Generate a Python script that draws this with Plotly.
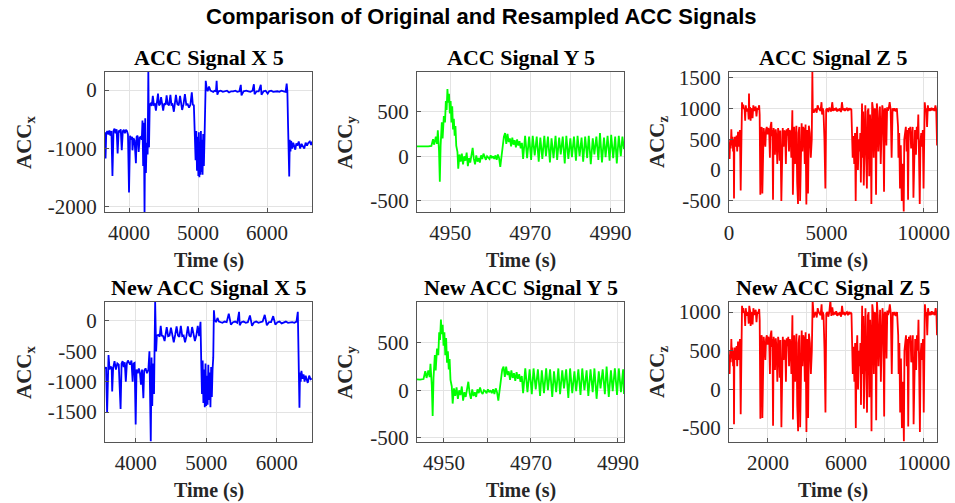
import plotly.graph_objects as go

W, H = 955, 503

# ---------------- data ----------------
acc_x_t = [3650, 3660, 3670, 3685, 3700, 3715, 3730, 3745, 3760, 3775, 3790, 3805, 3820, 3835, 3850, 3865,
           3880, 3895, 3910, 3925, 3940, 3955, 3970, 3985, 4000, 4015, 4030, 4045, 4050, 4065, 4080, 4100,
           4110, 4125, 4140, 4155, 4170, 4185, 4195, 4205, 4215, 4225, 4235, 4245, 4255, 4270, 4280, 4290,
           4300, 4315, 4330, 4345, 4360, 4375, 4390, 4405, 4420, 4435, 4450, 4465, 4480, 4495, 4510, 4530,
           4545, 4560, 4580, 4600, 4615, 4630, 4650, 4665, 4680, 4700, 4720, 4740, 4755, 4770, 4790, 4810,
           4830, 4850, 4870, 4890, 4910, 4925, 4940, 4955, 4965, 4975, 4985, 4995, 5005, 5012, 5020, 5028,
           5035, 5042, 5050, 5058, 5066, 5075, 5085, 5095, 5105, 5112, 5125, 5140, 5160, 5180, 5200, 5220,
           5240, 5260, 5270, 5280, 5300, 5330, 5360, 5390, 5420, 5450, 5480, 5510, 5540, 5570, 5600, 5620,
           5630, 5660, 5700, 5730, 5760, 5790, 5810, 5820, 5850, 5880, 5910, 5920, 5950, 5980, 6010, 6030,
           6060, 6090, 6120, 6150, 6180, 6210, 6240, 6270, 6285, 6295, 6305, 6315, 6322, 6330, 6340, 6350,
           6365, 6380, 6395, 6410, 6425, 6440, 6460, 6480, 6500, 6520, 6540, 6560, 6580, 6600, 6620, 6640, 6655]
acc_x_v = [-720, -1170, -740, -700, -760, -690, -780, -700, -1470, -700, -660, -740, -670, -1085, -690, -720,
           -670, -1030, -700, -680, -740, -680, -700, -760, -1750, -780, -850, -800, -1030, -820, -860, -1250,
           -800, -780, -1060, -810, -800, -850, -520, -1300, -560, -2100, -480, -1420, -900, -1100, 320, -980,
           -250, -230, -270, -100, -250, -240, -350, -230, -60, -260, -240, -120, -250, -350, -230, -250,
           -90, -240, -260, -80, -250, -240, -370, -250, -80, -240, -260, -100, -250, -340, -240, -70,
           -250, -240, -300, -250, -40, -250, -260, -750, -1200, -700, -1380, -800, -1470, -720, -1490, -900,
           -1450, -700, -1400, -850, -1450, -750, -1300, -780, -300, 160, 40, -20, 60, -10, -20, -30,
           -10, -20, 160, -80, -20, -10, -30, -20, -10, -40, -20, -20, -10, -30, -20, 90,
           -90, -20, -10, -20, -30, -10, 100, -70, -20, -20, 90, -80, -20, -10, -60, -20,
           -10, -30, -20, -20, -30, -10, -20, -30, 110, -20, -600, -1300, -1480, -850, -1050, -870,
           -1000, -900, -950, -1020, -910, -950, -880, -1000, -920, -960, -1000, -900, -950, -900, -880, -940, -880]

acc_y_t = [4941.5, 4943.0, 4944.5, 4945.3, 4945.7, 4946.0, 4946.4, 4946.7, 4946.9, 4947.2, 4947.4, 4947.6,
           4947.9, 4948.1, 4948.4, 4948.7, 4948.9, 4949.1, 4949.3, 4949.5, 4949.7, 4949.9, 4950.1, 4950.3,
           4950.5, 4950.7, 4950.9, 4951.1, 4951.3, 4951.5, 4951.8, 4952.0, 4952.3, 4952.6, 4952.9, 4953.2,
           4953.5, 4953.8, 4954.1, 4954.4, 4954.7, 4955.0, 4955.3, 4955.6, 4955.9, 4956.2, 4956.5, 4956.8,
           4957.1, 4957.4, 4957.7, 4958.0, 4958.3, 4958.6, 4958.9, 4959.2, 4959.5, 4959.8, 4960.1, 4960.4,
           4960.7, 4961.0, 4961.3, 4961.6, 4961.9, 4962.2, 4962.5, 4962.8, 4963.1, 4963.4, 4963.7, 4964.0,
           4964.3, 4964.6, 4964.9, 4965.2, 4965.5, 4965.8, 4966.1, 4966.4, 4966.7, 4967.0, 4967.3, 4967.6,
           4967.9, 4968.2, 4968.7, 4969.2, 4969.7, 4970.2, 4970.6, 4971.1, 4971.6, 4972.1, 4972.5, 4973.0,
           4973.5, 4973.9, 4974.4, 4974.9, 4975.3, 4975.8, 4976.3, 4976.7, 4977.2, 4977.6, 4978.1, 4978.6,
           4979.0, 4979.5, 4980.0, 4980.4, 4980.9, 4981.4, 4981.8, 4982.3, 4982.8, 4983.2, 4983.7, 4984.2,
           4984.6, 4985.1, 4985.6, 4986.0, 4986.5, 4987.0, 4987.4, 4987.9, 4988.4, 4988.8, 4989.3, 4989.8,
           4990.2, 4990.7, 4991.2, 4991.6, 4992.1, 4992.6, 4993.0, 4993.4]
acc_y_v = [110, 108, 110, 115, 190, 130, 220, 140, 290, 60, -285, 120,
           380, 200, 450, 380, 620, 520, 755, 600, 700, 480, 620, 380,
           560, 300, 420, 230, 340, 120, 50, -140, 20, -60, 30, -90,
           0, -50, 40, -110, -20, -70, 30, 95, -30, -90, 10, -60,
           -20, -70, 10, -30, 30, -20, -40, 0, -10, -30, 10, -20,
           0, -30, 10, -40, 20, -20, -120, 20, 150, 220, 260, 140,
           250, 160, 200, 110, 210, 130, 180, 100, 190, 120, 170, 90,
           150, -30, 230, -20, 220, -40, 230, 10, 220, -60, 210, -30,
           230, 0, 220, -70, 200, -20, 230, -40, 210, 20, 220, -80,
           230, -30, 200, -10, 220, -50, 230, 0, 210, -60, 220, -20,
           230, -90, 200, 20, 220, -40, 260, -70, 210, -10, 230, -50,
           240, -20, 220, -80, 230, 0, 220, 80]

acc_z_t = [0, 30, 60, 90, 120, 150, 180, 210, 240, 257, 275, 300, 330, 360, 390, 420, 450, 462, 480, 520,
           560, 600, 630, 668, 700, 730, 760, 800, 830, 860, 900, 940, 980, 1010, 1027, 1045, 1080, 1110,
           1140, 1180, 1210, 1250, 1290, 1330, 1370, 1410, 1450, 1500, 1550, 1575, 1609, 1640, 1680, 1712,
           1740, 1780, 1820, 1866, 1900, 1940, 1980, 2020, 2060, 2100, 2130, 2174, 2200, 2230, 2260, 2290,
           2320, 2360, 2400, 2440, 2480, 2520, 2560, 2600, 2640, 2688, 2720, 2760, 2800, 2840, 2880, 2920,
           2960, 3000, 3040, 3080, 3120, 3160, 3200, 3230, 3253, 3280, 3310, 3350, 3390, 3420, 3460, 3500,
           3544, 3570, 3610, 3650, 3690, 3730, 3770, 3810, 3850, 3890, 3930, 3972, 4010, 4057, 4100, 4150,
           4200, 4250, 4280, 4300, 4350, 4400, 4450, 4500, 4550, 4600, 4650, 4700, 4750, 4780, 4810, 4850,
           4900, 4948, 4990, 5050, 5100, 5150, 5200, 5250, 5300, 5350, 5400, 5450, 5500, 5550, 5600, 5650,
           5700, 5750, 5800, 5850, 5900, 5950, 6000, 6050, 6100, 6150, 6200, 6250, 6283, 6317, 6350, 6390,
           6430, 6470, 6505, 6540, 6580, 6620, 6660, 6700, 6740, 6770, 6800, 6830, 6860, 6890, 6920, 6960,
           7000, 7040, 7080, 7120, 7160, 7200, 7240, 7280, 7310, 7350, 7390, 7430, 7470, 7510, 7550, 7590,
           7630, 7670, 7710, 7750, 7790, 7830, 7870, 7910, 7960, 7995, 8040, 8080, 8120, 8160, 8200, 8250,
           8300, 8350, 8400, 8450, 8500, 8560, 8620, 8680, 8700, 8740, 8780, 8820, 8870, 8920, 8971, 9000,
           9040, 9080, 9120, 9160, 9194, 9230, 9270, 9310, 9350, 9390, 9430, 9470, 9510, 9550, 9600, 9640,
           9680, 9720, 9760, 9793, 9830, 9870, 9910, 9950, 9990, 10050, 10090, 10130, 10170, 10210, 10250,
           10300, 10350, 10400, 10450, 10500, 10550, 10600, 10640, 10683]
acc_z_v = [450, 180, 500, 350, 660, 400, 540, 300, 500, -460, 420, 540, 380, 480, 560, 300, 560, 620, 380, 500,
           650, -330, 600, 1100, 1000, 1060, 990, 1000, 800, 1050, 950, 1000, 980, 820, 1240, 960, 1020, 800,
           1000, 980, 840, 1050, 960, 1000, 1030, 870, 1000, 980, 1050, 900, -400, 650, 700, -380,
           620, 680, 560, 380, 650, 700, 580, 680, 640, 200, 700, 780, 550, 650, -480, 680,
           600, 250, 660, 520, 100, 680, 600, 150, 640, -500, 600, 680, 380, 640, 620, 100,
           660, 560, 680, 300, 650, 590, 200, 880, 970, -400, 600, 700, 100, 640, 720, -200,
           -550, 600, 700, -500, 650, 760, 300, 700, 650, 100, 740, -560, 650, -380, 720, 600,
           200, 500, 1590, 1000, 930, 980, 1000, 930, 1050, 1000, 980, 960, 1100, 900, 1000, 960,
           500, -300, 980, 1000, 940, 1010, 980, 950, 1100, 960, 1000, 970, 1010, 950, 990, 960,
           1000, 940, 1100, 970, 1000, 960, 990, 1000, 960, 1000, 980, 990, 980, 650, 200, 550,
           100, 600, -500, 450, 700, 0, 500, 300, 600, -200, 1000, 1080, 200, 950, -250, 500,
           1050, 300, -300, 950, 1000, -100, 900, 600, -550, 1100, 1000, 200, 1000, 980, -400, 1080,
           960, 300, 1000, 1030, 100, 990, 1050, 950, -350, 1000, 980, 400, 1020, 960, 1000, 1100,
           980, 200, 1000, 960, 1000, 950, 1000, 700, 200, 600, -300, 400, -500, 100, -670, 500,
           600, 700, 300, 650, -480, 680, 600, 700, 350, 640, 700, -450, 550, 650, 250, 700,
           500, 900, 150, -550, 450, 600, 380, 650, -300, 1100, 980, 1000, 700, 1050, 960,
           1000, 960, 1010, 970, 1000, 960, 1050, 980, 400]

new_x_t = [3565, 3580, 3595, 3605, 3615, 3630, 3645, 3660, 3667, 3680, 3700, 3720, 3740, 3760, 3786, 3800,
           3815, 3830, 3845, 3860, 3875, 3890, 3905, 3920, 3940, 3957, 3970, 3985, 4000, 4012, 4030, 4045,
           4060, 4075, 4090, 4109, 4120, 4140, 4160, 4180, 4195, 4205, 4214, 4225, 4235, 4245, 4260, 4276,
           4290, 4300, 4320, 4340, 4355, 4370, 4390, 4410, 4425, 4440, 4460, 4480, 4500, 4520, 4540, 4560,
           4580, 4600, 4620, 4640, 4660, 4680, 4700, 4720, 4740, 4760, 4780, 4800, 4820, 4840, 4860, 4880,
           4900, 4919, 4930, 4940, 4950, 4960, 4970, 4980, 4990, 5000, 5010, 5020, 5030, 5040, 5050, 5060,
           5070, 5080, 5090, 5100, 5109, 5120, 5140, 5160, 5180, 5200, 5230, 5260, 5290, 5320, 5350, 5380,
           5410, 5440, 5466, 5475, 5500, 5530, 5560, 5590, 5620, 5650, 5680, 5710, 5740, 5770, 5800, 5830,
           5860, 5890, 5920, 5950, 5980, 6010, 6040, 6070, 6100, 6130, 6160, 6190, 6220, 6250, 6280, 6299,
           6308, 6315, 6322, 6330, 6340, 6350, 6365, 6380, 6395, 6410, 6425, 6440, 6460, 6480, 6498]
new_x_v = [-790, -760, -1515, -820, -560, -800, -750, -780, -1160, -780, -660, -800, -700, -720, -1450, -700,
           -660, -760, -680, -1000, -700, -650, -700, -720, -650, -1000, -700, -690, -1705, -800, -860, -780,
           -850, -1050, -800, -1270, -820, -780, -860, -800, -500, -1350, -1980, -600, -1400, -700, -1200, 320,
           -500, -240, -230, -260, -80, -240, -250, -330, -230, -100, -250, -240, -110, -250, -350, -230,
           -90, -240, -260, -80, -250, -240, -350, -250, -90, -240, -260, -100, -250, -330, -240, -80,
           -250, -15, -700, -1200, -650, -1350, -800, -1420, -700, -1400, -900, -1380, -720, -1300, -850, -1420,
           -760, -1250, -800, -600, 175, 20, -20, 50, -10, -20, -30, -10, -20, 120, -60, -20,
           -10, -30, 150, -70, -20, -10, -30, -20, 90, -80, -20, -10, -30, -20, -10, 100,
           -70, -20, -20, 80, -60, -20, -10, -40, -20, -10, -30, -20, -20, -30, -10, 150,
           -400, -1100, -1430, -850, -1000, -820, -950, -880, -1000, -900, -950, -1020, -900, -960, -950]

new_y_t = [4943.8, 4944.5, 4945.3, 4945.7, 4946.0, 4946.4, 4946.7, 4946.9, 4947.2, 4947.4, 4947.6,
           4947.9, 4948.1, 4948.4, 4948.7, 4948.9, 4949.1, 4949.3, 4949.5, 4949.7, 4949.9, 4950.1, 4950.3,
           4950.5, 4950.7, 4950.9, 4951.1, 4951.3, 4951.5, 4951.8, 4952.0, 4952.3, 4952.6, 4952.9, 4953.2,
           4953.5, 4953.8, 4954.1, 4954.4, 4954.7, 4955.0, 4955.3, 4955.6, 4955.9, 4956.2, 4956.5, 4956.8,
           4957.1, 4957.4, 4957.7, 4958.0, 4958.3, 4958.6, 4958.9, 4959.2, 4959.5, 4959.8, 4960.1, 4960.4,
           4960.7, 4961.0, 4961.3, 4961.6, 4961.9, 4962.2, 4962.5, 4962.8, 4963.1, 4963.4, 4963.7, 4964.0,
           4964.3, 4964.6, 4964.9, 4965.2, 4965.5, 4965.8, 4966.1, 4966.4, 4966.7, 4967.0, 4967.3, 4967.6,
           4967.9, 4968.2, 4968.7, 4969.2, 4969.7, 4970.2, 4970.6, 4971.1, 4971.6, 4972.1, 4972.5, 4973.0,
           4973.5, 4973.9, 4974.4, 4974.9, 4975.3, 4975.8, 4976.3, 4976.7, 4977.2, 4977.6, 4978.1, 4978.6,
           4979.0, 4979.5, 4980.0, 4980.4, 4980.9, 4981.4, 4981.8, 4982.3, 4982.8, 4983.2, 4983.7, 4984.2,
           4984.6, 4985.1, 4985.6, 4986.0, 4986.5, 4987.0, 4987.4, 4987.9, 4988.4, 4988.8, 4989.3, 4989.8,
           4990.2, 4990.7, 4991.2, 4991.4]
new_y_v = [115, 112, 118, 200, 130, 210, 140, 280, 50, -270, 130,
           370, 210, 440, 370, 610, 530, 745, 590, 690, 470, 610, 370,
           550, 290, 410, 220, 330, 110, 40, -140, 20, -60, 30, -90,
           0, -50, 40, -110, -20, -70, 30, 90, -30, -90, 10, -60,
           -20, -70, 10, -30, 30, -20, -40, 0, -10, -30, 10, -20,
           0, -30, 10, -40, 20, -20, -110, 20, 150, 220, 250, 140,
           250, 160, 200, 110, 210, 130, 180, 100, 190, 120, 170, 90,
           150, -30, 230, -20, 220, -40, 230, 10, 220, -60, 210, -30,
           230, 0, 220, -70, 200, -20, 230, -40, 210, 20, 220, -80,
           230, -30, 200, -10, 220, -50, 230, 0, 210, -60, 220, -20,
           230, -90, 200, 20, 220, -40, 250, -70, 210, -10, 230, -50,
           230, -20, 220, -40]

new_z_t = [0, 30, 60, 90, 120, 150, 180, 210, 240, 257, 275, 300, 330, 360, 390, 420, 450, 462, 480, 520,
           560, 600, 630, 668, 700, 730, 760, 800, 830, 860, 900, 940, 980, 1010, 1040, 1080, 1110,
           1140, 1180, 1210, 1250, 1290, 1330, 1370, 1410, 1450, 1500, 1550, 1575, 1609, 1640, 1680, 1712,
           1740, 1780, 1820, 1866, 1900, 1940, 1980, 2020, 2060, 2100, 2130, 2174, 2200, 2230, 2260, 2290,
           2320, 2360, 2400, 2440, 2480, 2520, 2560, 2600, 2640, 2688, 2720, 2760, 2800, 2840, 2880, 2920,
           2960, 3000, 3040, 3080, 3120, 3160, 3200, 3230, 3253, 3280, 3310, 3350, 3390, 3420, 3460, 3500,
           3544, 3570, 3610, 3650, 3690, 3730, 3770, 3810, 3850, 3890, 3930, 3972, 4010, 4057, 4100, 4150,
           4200, 4250, 4290, 4320, 4350, 4400, 4450, 4500, 4550, 4600, 4650, 4700, 4750, 4780, 4810, 4850,
           4900, 4948, 4990, 5050, 5100, 5150, 5200, 5250, 5300, 5350, 5400, 5450, 5500, 5550, 5600, 5650,
           5700, 5750, 5800, 5850, 5900, 5950, 6000, 6050, 6100, 6150, 6200, 6250, 6283, 6317, 6350, 6390,
           6430, 6470, 6505, 6540, 6580, 6620, 6660, 6700, 6740, 6770, 6800, 6830, 6860, 6890, 6920, 6960,
           7000, 7040, 7080, 7120, 7160, 7200, 7240, 7280, 7310, 7350, 7390, 7430, 7470, 7510, 7550, 7590,
           7630, 7670, 7710, 7750, 7790, 7830, 7870, 7910, 7960, 7995, 8040, 8080, 8120, 8160, 8200, 8250,
           8300, 8350, 8400, 8450, 8500, 8560, 8620, 8680, 8700, 8740, 8780, 8820, 8870, 8920, 8971, 9000,
           9040, 9080, 9120, 9160, 9194, 9230, 9270, 9310, 9350, 9390, 9430, 9470, 9510, 9550, 9600, 9640,
           9680, 9720, 9760, 9793, 9830, 9870, 9910, 9950, 9990, 10050, 10090, 10130, 10170, 10210, 10250,
           10300, 10350, 10400, 10450, 10500, 10550, 10600, 10640, 10670]
new_z_v = [450, 200, 500, 350, 650, 400, 540, 300, 500, -450, 420, 540, 380, 480, 560, 300, 560, 620, 380, 500,
           650, -320, 600, 1080, 1000, 1050, 990, 1000, 820, 1050, 950, 1000, 980, 850, 1080, 1020, 820,
           1000, 980, 840, 1050, 960, 1000, 1030, 870, 1000, 980, 1040, 900, -380, 650, 700, -370,
           620, 680, 560, 380, 650, 700, 580, 680, 640, 200, 700, 760, 550, 650, -470, 680,
           600, 250, 660, 520, 100, 680, 600, 150, 640, -490, 600, 680, 380, 640, 620, 100,
           660, 560, 680, 300, 650, 590, 200, 870, 960, -390, 600, 700, 100, 640, 720, -200,
           -540, 600, 700, -490, 650, 760, 300, 700, 650, 100, 740, -550, 650, -370, 720, 600,
           200, 500, 1150, 1000, 930, 980, 1000, 930, 1050, 1000, 980, 960, 1100, 900, 1000, 960,
           500, -300, 980, 1000, 940, 1010, 1150, 950, 1060, 960, 1000, 970, 1010, 950, 990, 960,
           1000, 940, 1080, 970, 1000, 960, 990, 1000, 960, 1000, 980, 990, 980, 650, 200, 550,
           100, 600, -500, 450, 700, 0, 500, 300, 600, -200, 1000, 1080, 200, 950, -250, 500,
           1050, 300, -300, 950, 1000, -100, 900, 600, -540, 1100, 1000, 200, 1000, 980, -400, 1130,
           960, 300, 1000, 1030, 100, 990, 1050, 950, -350, 1000, 980, 400, 1020, 960, 1000, 1100,
           980, 200, 1000, 960, 1000, 950, 1000, 700, 200, 600, -300, 400, -500, 100, -670, 500,
           600, 700, 300, 650, -480, 680, 600, 700, 350, 640, 700, -450, 550, 650, 250, 700,
           500, 900, 150, -550, 450, 600, 380, 650, -300, 1100, 980, 1000, 700, 1050, 960,
           1000, 960, 1010, 970, 1000, 960, 1050, 980, 700]

titles = ["ACC Signal X 5", "ACC Signal Y 5", "ACC Signal Z 5",
          "New ACC Signal X 5", "New ACC Signal Y 5", "New ACC Signal Z 5"]
ylabels = ["x", "y", "z", "x", "y", "z"]
xlabel = "Time (s)"
main_title = "Comparison of Original and Resampled ACC Signals"

x_ticks = [[4000, 5000, 6000], [4950, 4960, 4970, 4980, 4990], [0, 5000, 10000],
           [4000, 5000, 6000], [4950, 4960, 4970, 4980, 4990], [2000, 4000, 6000, 8000, 10000]]
x_ticktext = [["4000", "5000", "6000"], ["4950", "", "4970", "", "4990"], ["0", "5000", "10000"],
              ["4000", "5000", "6000"], ["4950", "", "4970", "", "4990"], ["2000", "", "6000", "", "10000"]]
y_ticks = [[-2000, -1000, 0], [-500, 0, 500], [-500, 0, 500, 1000, 1500],
           [-1500, -1000, -500, 0], [-500, 0, 500], [-500, 0, 500, 1000]]
x_ranges = [[3652, 6652], [4941.7, 4993.4], [0, 10680], [3565, 6500], [4943.8, 4991.4], [0, 10670]]
y_ranges = [[-2086, 310], [-625, 945], [-680, 1590], [-1992, 312], [-545, 930], [-680, 1130]]

series = [(acc_x_t, acc_x_v, "#0000FF"), (acc_y_t, acc_y_v, "#00FF00"), (acc_z_t, acc_z_v, "#FF0000"),
          (new_x_t, new_x_v, "#0000FF"), (new_y_t, new_y_v, "#00FF00"), (new_z_t, new_z_v, "#FF0000")]

# ---------------- layout (pixel boxes) ----------------
col_px = [(105, 312), (417, 624), (729, 937)]
row_px = [(72, 212), (302, 442)]
ylab_off = [80, 71, 71]

SERIF = "Liberation Serif"
fig = go.Figure()
annotations = []
layout = {}
for i in range(6):
    r, c = divmod(i, 3)
    n = "" if i == 0 else str(i + 1)
    xa, ya = "x" + n, "y" + n
    t, v, col = series[i]
    fig.add_trace(go.Scatter(x=t, y=v, mode="lines", line=dict(color=col, width=1.8),
                             xaxis=xa, yaxis=ya, showlegend=False, hoverinfo="skip"))
    x0, x1 = col_px[c]
    y0, y1 = row_px[r]
    common = dict(showline=True, mirror=True, linecolor="#555555", linewidth=1,
                  showgrid=True, gridcolor="#E3E3E3", gridwidth=1, zeroline=False,
                  ticks="inside", ticklen=4, tickcolor="#555555", automargin=False,
                  tickfont=dict(family=SERIF, size=21, color="#262626"))
    layout["xaxis" + n] = dict(domain=[x0 / W, x1 / W], anchor=ya, range=x_ranges[i],
                               tickmode="array", tickvals=x_ticks[i], ticktext=x_ticktext[i],
                               ticklabelstandoff=2, **common)
    layout["yaxis" + n] = dict(domain=[1 - y1 / H, 1 - y0 / H], anchor=xa, range=y_ranges[i],
                               tickmode="array", tickvals=y_ticks[i],
                               ticktext=[str(k) for k in y_ticks[i]],
                               ticklabelstandoff=3, **common)
    cx = (x0 + x1) / 2
    annotations.append(dict(text="<b>" + titles[i] + "</b>", x=cx / W, y=1 - (y0 - 15) / H,
                            xref="paper", yref="paper", xanchor="center", yanchor="middle",
                            showarrow=False, font=dict(family=SERIF, size=22, color="#000000")))
    annotations.append(dict(text="<b>" + xlabel + "</b>", x=cx / W, y=1 - (y1 + 48) / H,
                            xref="paper", yref="paper", xanchor="center", yanchor="middle",
                            showarrow=False, font=dict(family=SERIF, size=20, color="#262626")))
    annotations.append(dict(text="<b>ACC<sub>" + ylabels[i] + "</sub></b>",
                            x=(x0 - ylab_off[c]) / W, y=1 - ((y0 + y1) / 2) / H, textangle=-90,
                            xref="paper", yref="paper", xanchor="center", yanchor="middle",
                            showarrow=False, font=dict(family=SERIF, size=21, color="#262626")))

annotations.append(dict(text="<b>" + main_title + "</b>", x=481 / W, y=1 - 17 / H,
                        xref="paper", yref="paper", xanchor="center", yanchor="middle",
                        showarrow=False, font=dict(family="Liberation Sans", size=22, color="#000000")))

fig.update_layout(width=W, height=H, margin=dict(l=0, r=0, t=0, b=0, pad=0), autosize=False,
                  paper_bgcolor="white", plot_bgcolor="white", showlegend=False,
                  annotations=annotations, **layout)
fig.write_html("out.html", config={"displayModeBar": False, "staticPlot": True},
               post_script="document.body.style.margin='0';document.body.style.overflow='hidden';")
